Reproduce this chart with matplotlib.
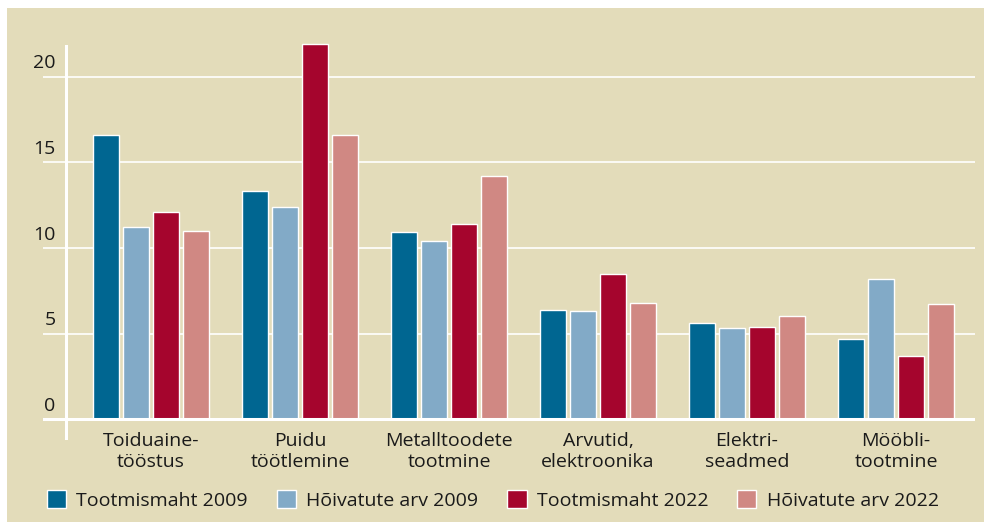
import numpy as np
import matplotlib.pyplot as plt
from matplotlib.patches import Rectangle

categories = ['Toiduaine-\ntööstus', 'Puidu\ntöötlemine', 'Metalltoodete\ntootmine',
              'Arvutid,\nelektroonika', 'Elektri-\nseadmed', 'Mööbli-\ntootmine']
series_names = ['Tootmismaht 2009', 'Hõivatute arv 2009',
                'Tootmismaht 2022', 'Hõivatute arv 2022']
tootmismaht_2009 = [16.6, 13.3, 10.9, 6.4, 5.6, 4.7]
hoivatute_2009 = [11.2, 12.4, 10.4, 6.3, 5.3, 8.2]
tootmismaht_2022 = [12.1, 21.9, 11.4, 8.5, 5.4, 3.7]
hoivatute_2022 = [11.0, 16.6, 14.2, 6.8, 6.0, 6.7]
yticks = [0, 5, 10, 15, 20]

colors = ['#006691', '#82aac7', '#a5052d', '#d08883']
bg = '#e3dcba'

plt.rcParams['font.family'] = ['Open Sans', 'DejaVu Sans']
plt.rcParams['font.size'] = 14

fig = plt.figure(figsize=(9.84, 5.25), dpi=100)
fig.patches.append(Rectangle((7 / 984, 3 / 525), 1, 1 - 11 / 525, transform=fig.transFigure,
                             facecolor=bg, edgecolor='none', zorder=-10))
ax = fig.add_axes([43 / 984, 85 / 525, 932 / 984, 395 / 525])
ax.set_facecolor('none')
for s in ax.spines.values():
    s.set_visible(False)
ax.set_xticks([])
ax.set_yticks([])

x = np.arange(len(categories))
step = 30 / 149
width = 26 / 149
data = [tootmismaht_2009, hoivatute_2009, tootmismaht_2022, hoivatute_2022]
for i, vals in enumerate(data):
    ax.bar(x + (i - 1.5) * step, vals, width, color=colors[i], edgecolor='white',
           linewidth=1, label=series_names[i], zorder=3, clip_on=False)

ax.set_xlim(-0.725, 5.53)
ax.set_ylim(-1.22, 21.85)

# grid lines and axis lines
for v in yticks[1:]:
    ax.axhline(v, color='white', linewidth=1.2, zorder=1)
    ax.text(-0.64, v + 0.78, str(v), ha='right', va='center', color='#1a1a1a')
ax.axhline(0, color='white', linewidth=2.2, zorder=4)
ax.text(-0.64, 0.78, '0', ha='right', va='center', color='#1a1a1a')
ax.axvline(-0.57, color='white', linewidth=2.2, zorder=4)

for xi, lab in zip(x, categories):
    ax.text(xi, -1.87, lab, ha='center', va='center', linespacing=1.2,
            color='#1a1a1a', clip_on=False)

fig.legend(loc='center', bbox_to_anchor=(493 / 984, 1 - 500 / 525), ncol=4,
           frameon=False, handlelength=0.98, handleheight=0.98, handletextpad=0.52,
           columnspacing=1.5, borderpad=0, labelcolor='#1a1a1a')

fig.savefig('out.png', dpi=100, facecolor='white')
